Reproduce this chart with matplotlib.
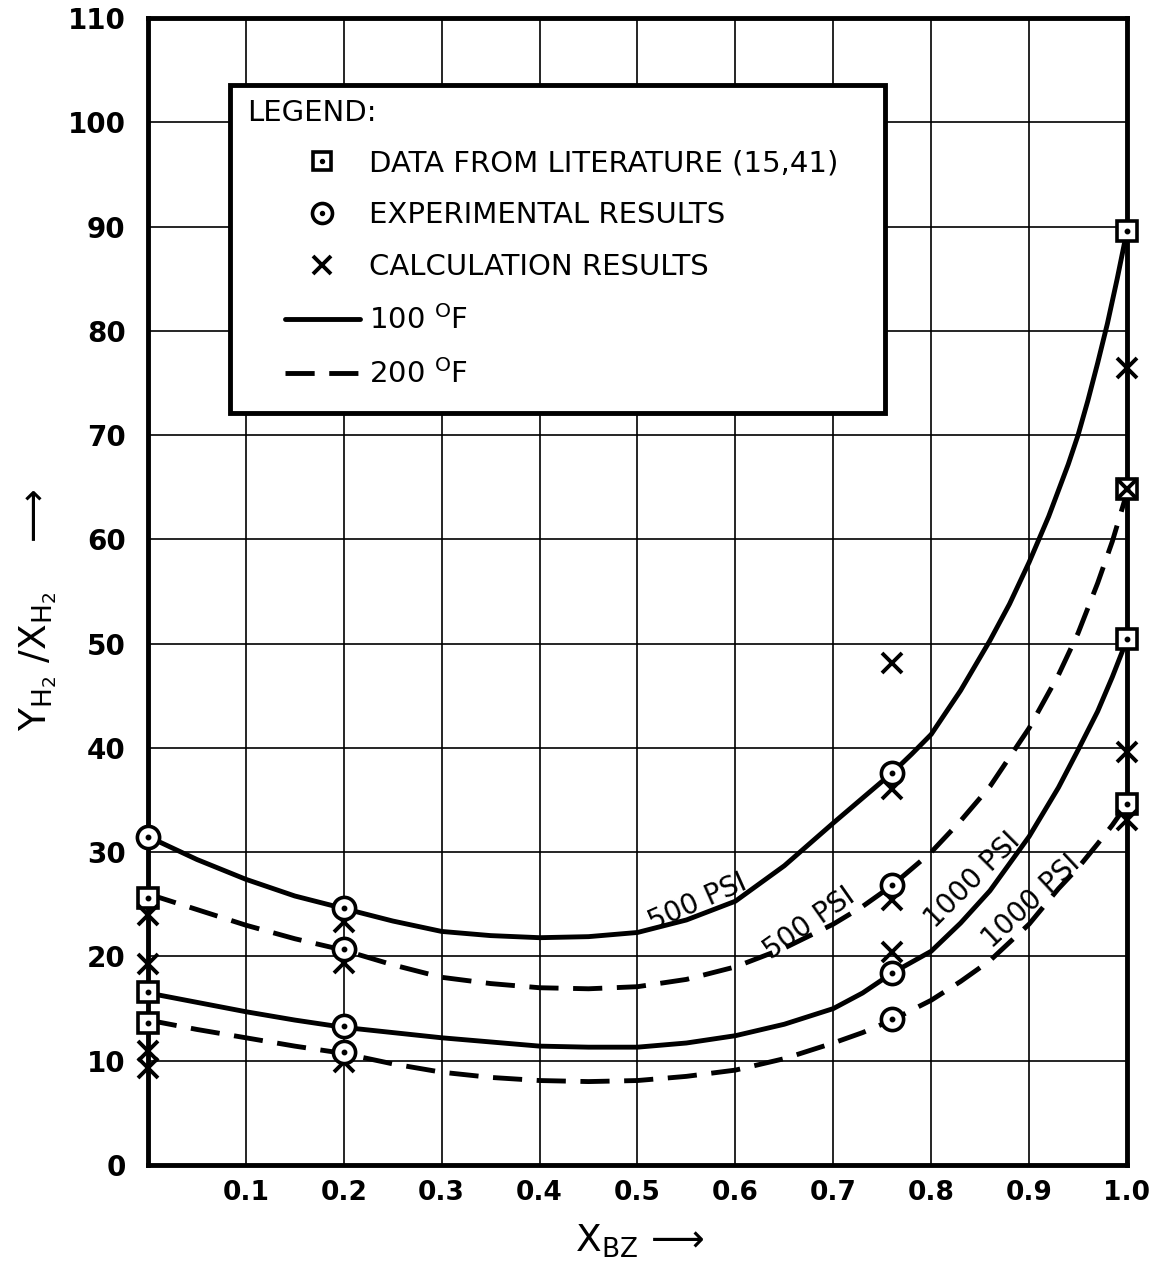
import matplotlib
matplotlib.use("Agg")
import matplotlib.pyplot as plt
from matplotlib.patches import Rectangle

plt.rcParams['font.family'] = ['DejaVu Sans']

# ---------------- data ----------------
# curves
x_100_500 = [0, 0.05, 0.1, 0.15, 0.2, 0.25, 0.3, 0.35, 0.4, 0.45, 0.5, 0.55, 0.6, 0.65, 0.7, 0.73, 0.76,
             0.78, 0.8, 0.83, 0.86, 0.88, 0.9, 0.92, 0.94, 0.95, 0.96, 0.97, 0.98, 0.99, 1.0]
y_100_500 = [31.5, 29.3, 27.4, 25.8, 24.6, 23.4, 22.4, 22.0, 21.8, 21.9, 22.3, 23.5, 25.3, 28.7, 32.8, 35.2, 37.6,
             39.4, 41.3, 45.5, 50.3, 53.8, 57.8, 62.2, 67.2, 70.0, 73.3, 76.9, 80.7, 85.0, 89.6]

x_200_500 = [0, 0.05, 0.1, 0.15, 0.2, 0.25, 0.3, 0.35, 0.4, 0.45, 0.5, 0.55, 0.6, 0.65, 0.7, 0.73, 0.76,
             0.8, 0.83, 0.86, 0.9, 0.93, 0.95, 0.97, 0.985, 1.0]
y_200_500 = [26.0, 24.5, 23.0, 21.7, 20.6, 19.2, 18.0, 17.4, 17.0, 16.9, 17.1, 17.8, 19.0, 20.8, 23.1, 24.8, 26.8,
             30.0, 33.0, 36.3, 41.9, 47.0, 51.0, 55.8, 59.8, 64.5]

x_100_1000 = [0, 0.05, 0.1, 0.15, 0.2, 0.25, 0.3, 0.35, 0.4, 0.45, 0.5, 0.55, 0.6, 0.65, 0.7, 0.73, 0.76,
              0.8, 0.83, 0.86, 0.9, 0.93, 0.95, 0.97, 0.985, 1.0]
y_100_1000 = [16.5, 15.6, 14.7, 13.9, 13.2, 12.7, 12.2, 11.8, 11.4, 11.3, 11.3, 11.7, 12.4, 13.5, 15.0, 16.5, 18.4,
              20.5, 23.2, 26.3, 31.5, 36.2, 39.8, 43.5, 46.8, 50.4]

x_200_1000 = [0, 0.05, 0.1, 0.15, 0.2, 0.25, 0.3, 0.35, 0.4, 0.45, 0.5, 0.55, 0.6, 0.65, 0.7, 0.73, 0.76,
              0.8, 0.83, 0.86, 0.9, 0.93, 0.95, 0.97, 0.985, 1.0]
y_200_1000 = [13.9, 13.0, 12.2, 11.4, 10.7, 9.7, 8.9, 8.4, 8.1, 8.0, 8.1, 8.5, 9.1, 10.2, 11.7, 12.7, 13.9,
              15.8, 17.6, 19.6, 23.1, 26.5, 28.5, 30.8, 32.6, 34.6]

# markers
lit_x = [0, 0, 0, 1.0, 1.0, 1.0, 1.0]
lit_y = [25.6, 16.6, 13.6, 89.6, 64.8, 50.4, 34.6]

exp_x = [0, 0.2, 0.2, 0.2, 0.2, 0.76, 0.76, 0.76, 0.76]
exp_y = [31.5, 24.6, 20.7, 13.3, 10.8, 37.6, 26.9, 18.4, 14.0]

calc_x = [0, 0, 0, 0, 0.2, 0.2, 0.2, 0.76, 0.76, 0.76, 0.76, 1.0, 1.0, 1.0, 1.0]
calc_y = [24.0, 19.3, 10.9, 9.3, 23.3, 19.4, 9.9, 48.1, 36.1, 25.4, 20.4, 76.4, 64.8, 39.6, 33.1]

x_ticks = [0.1, 0.2, 0.3, 0.4, 0.5, 0.6, 0.7, 0.8, 0.9, 1.0]
x_tick_labels = ['0.1', '0.2', '0.3', '0.4', '0.5', '0.6', '0.7', '0.8', '0.9', '1.0']
y_ticks = [0, 10, 20, 30, 40, 50, 60, 70, 80, 90, 100, 110]

curve_labels = ['500 PSI', '500 PSI', '1000 PSI', '1000 PSI']
legend_labels = ['DATA FROM LITERATURE (15,41)', 'EXPERIMENTAL RESULTS', 'CALCULATION RESULTS',
                 r'100 $\mathregular{^{O}}$F', r'200 $\mathregular{^{O}}$F']

# ---------------- figure ----------------
fig = plt.figure(figsize=(11.54, 12.63), dpi=100)
ax = fig.add_axes([0.1282, 0.0776, 0.8484, 0.9081])
ax.set_xlim(0, 1.0)
ax.set_ylim(0, 110)

# grid
ax.set_xticks([0.0] + x_ticks)
ax.set_yticks(y_ticks)
ax.grid(True, color='black', linewidth=1.2)
ax.set_axisbelow(True)
for s in ax.spines.values():
    s.set_linewidth(3.5)

# ticks
ax.tick_params(length=0)
ax.set_xticklabels([''] + x_tick_labels, fontsize=19, fontweight='bold')
ax.set_yticklabels([str(v) for v in y_ticks], fontsize=20, fontweight='bold')
ax.tick_params(axis='x', pad=11)
ax.tick_params(axis='y', pad=16)

lw = 3.5
ln100, = ax.plot(x_100_500, y_100_500, color='black', lw=lw, solid_capstyle='round',
                 solid_joinstyle='round', zorder=2)
ax.plot(x_100_1000, y_100_1000, color='black', lw=lw, solid_capstyle='round',
        solid_joinstyle='round', zorder=2)
ln200, = ax.plot(x_200_500, y_200_500, color='black', lw=lw, dashes=(6, 3), zorder=2)
ax.plot(x_200_1000, y_200_1000, color='black', lw=lw, dashes=(6, 3), zorder=2)

# markers
sq, = ax.plot(lit_x, lit_y, ls='none', marker='s', ms=14.5, mfc='white', mec='black', mew=2.6,
              clip_on=False, zorder=4)
sqd, = ax.plot(lit_x, lit_y, ls='none', marker='o', ms=3.2, color='black', clip_on=False, zorder=6)
cx, = ax.plot(calc_x, calc_y, ls='none', marker='x', ms=14, mec='black', mew=2.8,
              clip_on=False, zorder=5)
ci, = ax.plot(exp_x, exp_y, ls='none', marker='o', ms=16, mfc='white', mec='black', mew=2.6,
              clip_on=False, zorder=6)
cid, = ax.plot(exp_x, exp_y, ls='none', marker='o', ms=3.2, color='black', clip_on=False, zorder=7)

# curve labels
lab_fs = 20
ax.text(0.561, 25.2, curve_labels[0], rotation=24, fontsize=lab_fs, ha='center', va='center', zorder=8)
ax.text(0.675, 23.2, curve_labels[1], rotation=35, fontsize=lab_fs, ha='center', va='center', zorder=8)
ax.text(0.842, 27.3, curve_labels[2], rotation=45, fontsize=lab_fs, ha='center', va='center', zorder=8)
ax.text(0.902, 25.3, curve_labels[3], rotation=43, fontsize=lab_fs, ha='center', va='center', zorder=8)

# legend box
box = Rectangle((0.0838, 0.6556), 0.669, 0.286, transform=ax.transAxes,
                facecolor='white', edgecolor='black', linewidth=3.5, zorder=9)
ax.add_patch(box)
ax.text(0.1017, 0.917, 'LEGEND:', transform=ax.transAxes, fontsize=21,
        ha='left', va='center', zorder=10)
leg = ax.legend([(sq, sqd), (ci, cid), cx, ln100, ln200], legend_labels,
                loc='upper left', bbox_to_anchor=(0.140, 0.8855), frameon=False,
                fontsize=21, borderpad=0, borderaxespad=0, handlelength=2.57,
                handletextpad=0.3, labelspacing=0.82, markerscale=0.9)
leg.set_zorder(10)

# axis labels
fig.text(0.554, 0.017, r'$\mathregular{X_{BZ}}$' + ' \u27f6', fontsize=27, ha='center', va='center')
fig.text(0.033, 0.517, r'$\mathregular{Y_{H_2}\ /X_{H_2}}$' + '    \u27f6', fontsize=27, ha='center',
         va='center', rotation=90)

fig.savefig('out.png', dpi=100)
